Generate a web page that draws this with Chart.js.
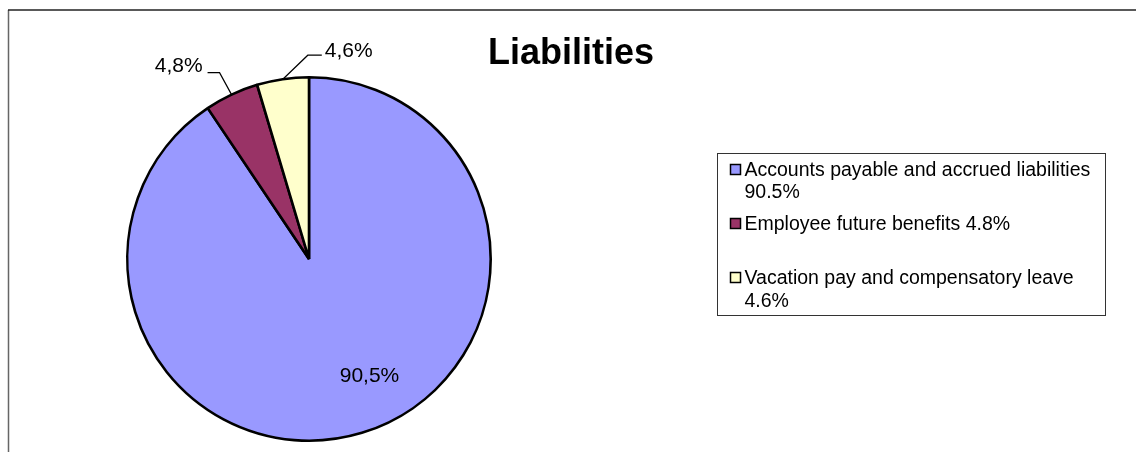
<!DOCTYPE html>
<html>
<head>
<meta charset="utf-8">
<script src="https://cdn.jsdelivr.net/npm/chart.js@4"></script>
<style>
  html, body { margin: 0; padding: 0; background: #fff; }
  #wrap { width: 1136px; height: 452px; }
</style>
</head>
<body>
<div id="wrap"><canvas id="cpie" width="1136" height="452"></canvas></div>
<script>
	// chart values
	var sliceNames	=	["Accounts payable and accrued liabilities", "Employee future benefits", "Vacation pay and compensatory leave"];
	var sliceValues	=	[90.5, 4.8, 4.6];
	var sliceColors	=	["#9999FF", "#993366", "#FFFFCC"];
	var chartTitle	=	"Liabilities";

	var FONT = "'Liberation Sans', Arial, sans-serif";

	// label placement per slice (style only)
	var labelStyle = [
		{inside: true, rFrac: 0.725, shift: -10.4},
		{elbow: [-12, -22], run: -12, align: "right", gap: 5, lift: -6},
		{elbow: [25, -24], run: 14, align: "left", gap: 3, lift: -4}
	];

	// legend rows: baseline offsets inside the box
	var legendRows = [[22, 44], [76], [130, 153]];

	function pct(v, sep) {
		return v.toFixed(1).replace(".", sep) + "%";
	}

	var decorPlugin = {
		id: "decor",
		beforeDraw: function(chart) {
			var ctx = chart.ctx;
			ctx.save();
			ctx.fillStyle = "#fff";
			ctx.fillRect(0, 0, chart.width, chart.height);
			// outer frame
			ctx.strokeStyle = "#666";
			ctx.lineWidth = 1.5;
			ctx.beginPath();
			ctx.moveTo(8.5, 460);
			ctx.lineTo(8.5, 10);
			ctx.stroke();
			ctx.strokeStyle = "#222";
			ctx.beginPath();
			ctx.moveTo(8, 10);
			ctx.lineTo(1140, 10);
			ctx.stroke();
			ctx.restore();
		},
		afterDraw: function(chart) {
			var ctx = chart.ctx;
			ctx.save();

			// title
			ctx.fillStyle = "#000";
			ctx.font = "bold 36px " + FONT;
			ctx.textAlign = "center";
			ctx.textBaseline = "alphabetic";
			ctx.fillText(chartTitle, 571, 64);

			// data labels
			var arcs = chart.getDatasetMeta(0).data;
			ctx.font = "21px " + FONT;
			arcs.forEach(function(arc, i) {
				var p = arc.getProps(["x", "y", "startAngle", "endAngle", "outerRadius"], true);
				var mid = (p.startAngle + p.endAngle) / 2;
				var st = labelStyle[i];
				var txt = pct(sliceValues[i], ",");
				if (st.inside) {
					var a = mid + st.shift * Math.PI / 180;
					var r = p.outerRadius * st.rFrac;
					ctx.textAlign = "center";
					ctx.textBaseline = "middle";
					ctx.fillText(txt, p.x + Math.cos(a) * r, p.y + Math.sin(a) * r);
				} else {
					var ex = p.x + Math.cos(mid) * p.outerRadius;
					var ey = p.y + Math.sin(mid) * p.outerRadius;
					var bx = ex + st.elbow[0], by = ey + st.elbow[1];
					var tx = bx + st.run;
					ctx.strokeStyle = "#000";
					ctx.lineWidth = 1.2;
					ctx.beginPath();
					ctx.moveTo(ex, ey);
					ctx.lineTo(bx, by);
					ctx.lineTo(tx, by);
					ctx.stroke();
					ctx.textAlign = st.align;
					ctx.textBaseline = "middle";
					var lx = st.align == "right" ? tx - st.gap : tx + st.gap;
					ctx.fillText(txt, lx, by + st.lift);
				}
			});

			// legend box
			var bx0 = 717.5, by0 = 153.5, bw = 388, bh = 162;
			ctx.strokeStyle = "#333";
			ctx.lineWidth = 1;
			ctx.strokeRect(bx0, by0, bw, bh);
			ctx.font = "19.5px " + FONT;
			ctx.textAlign = "left";
			ctx.textBaseline = "alphabetic";
			sliceNames.forEach(function(name, i) {
				var rows = legendRows[i];
				var lines = rows.length > 1 ? [name, pct(sliceValues[i], ".")] : [name + " " + pct(sliceValues[i], ".")];
				ctx.fillStyle = sliceColors[i];
				ctx.fillRect(bx0 + 13, by0 + rows[0] - 11, 10, 10);
				ctx.strokeStyle = "#000";
				ctx.lineWidth = 1.5;
				ctx.strokeRect(bx0 + 13, by0 + rows[0] - 11, 10, 10);
				ctx.fillStyle = "#000";
				lines.forEach(function(l, k) {
					ctx.fillText(l, bx0 + 27, by0 + rows[k]);
				});
			});

			ctx.restore();
		}
	};

	var pieChart = new Chart(document.getElementById("cpie").getContext("2d"), {
		type: "pie",
		data: {
			labels: sliceNames,
			datasets: [{
				data: sliceValues,
				backgroundColor: sliceColors,
				borderColor: "#000",
				borderWidth: 2.6
			}]
		},
		options: {
			responsive: false,
			animation: false,
			layout: { padding: { left: 126, top: 76, right: 644, bottom: 10 } },
			plugins: {
				legend: { display: false },
				tooltip: { enabled: false },
				title: { display: false }
			}
		},
		plugins: [decorPlugin]
	});
</script>
</body>
</html>
